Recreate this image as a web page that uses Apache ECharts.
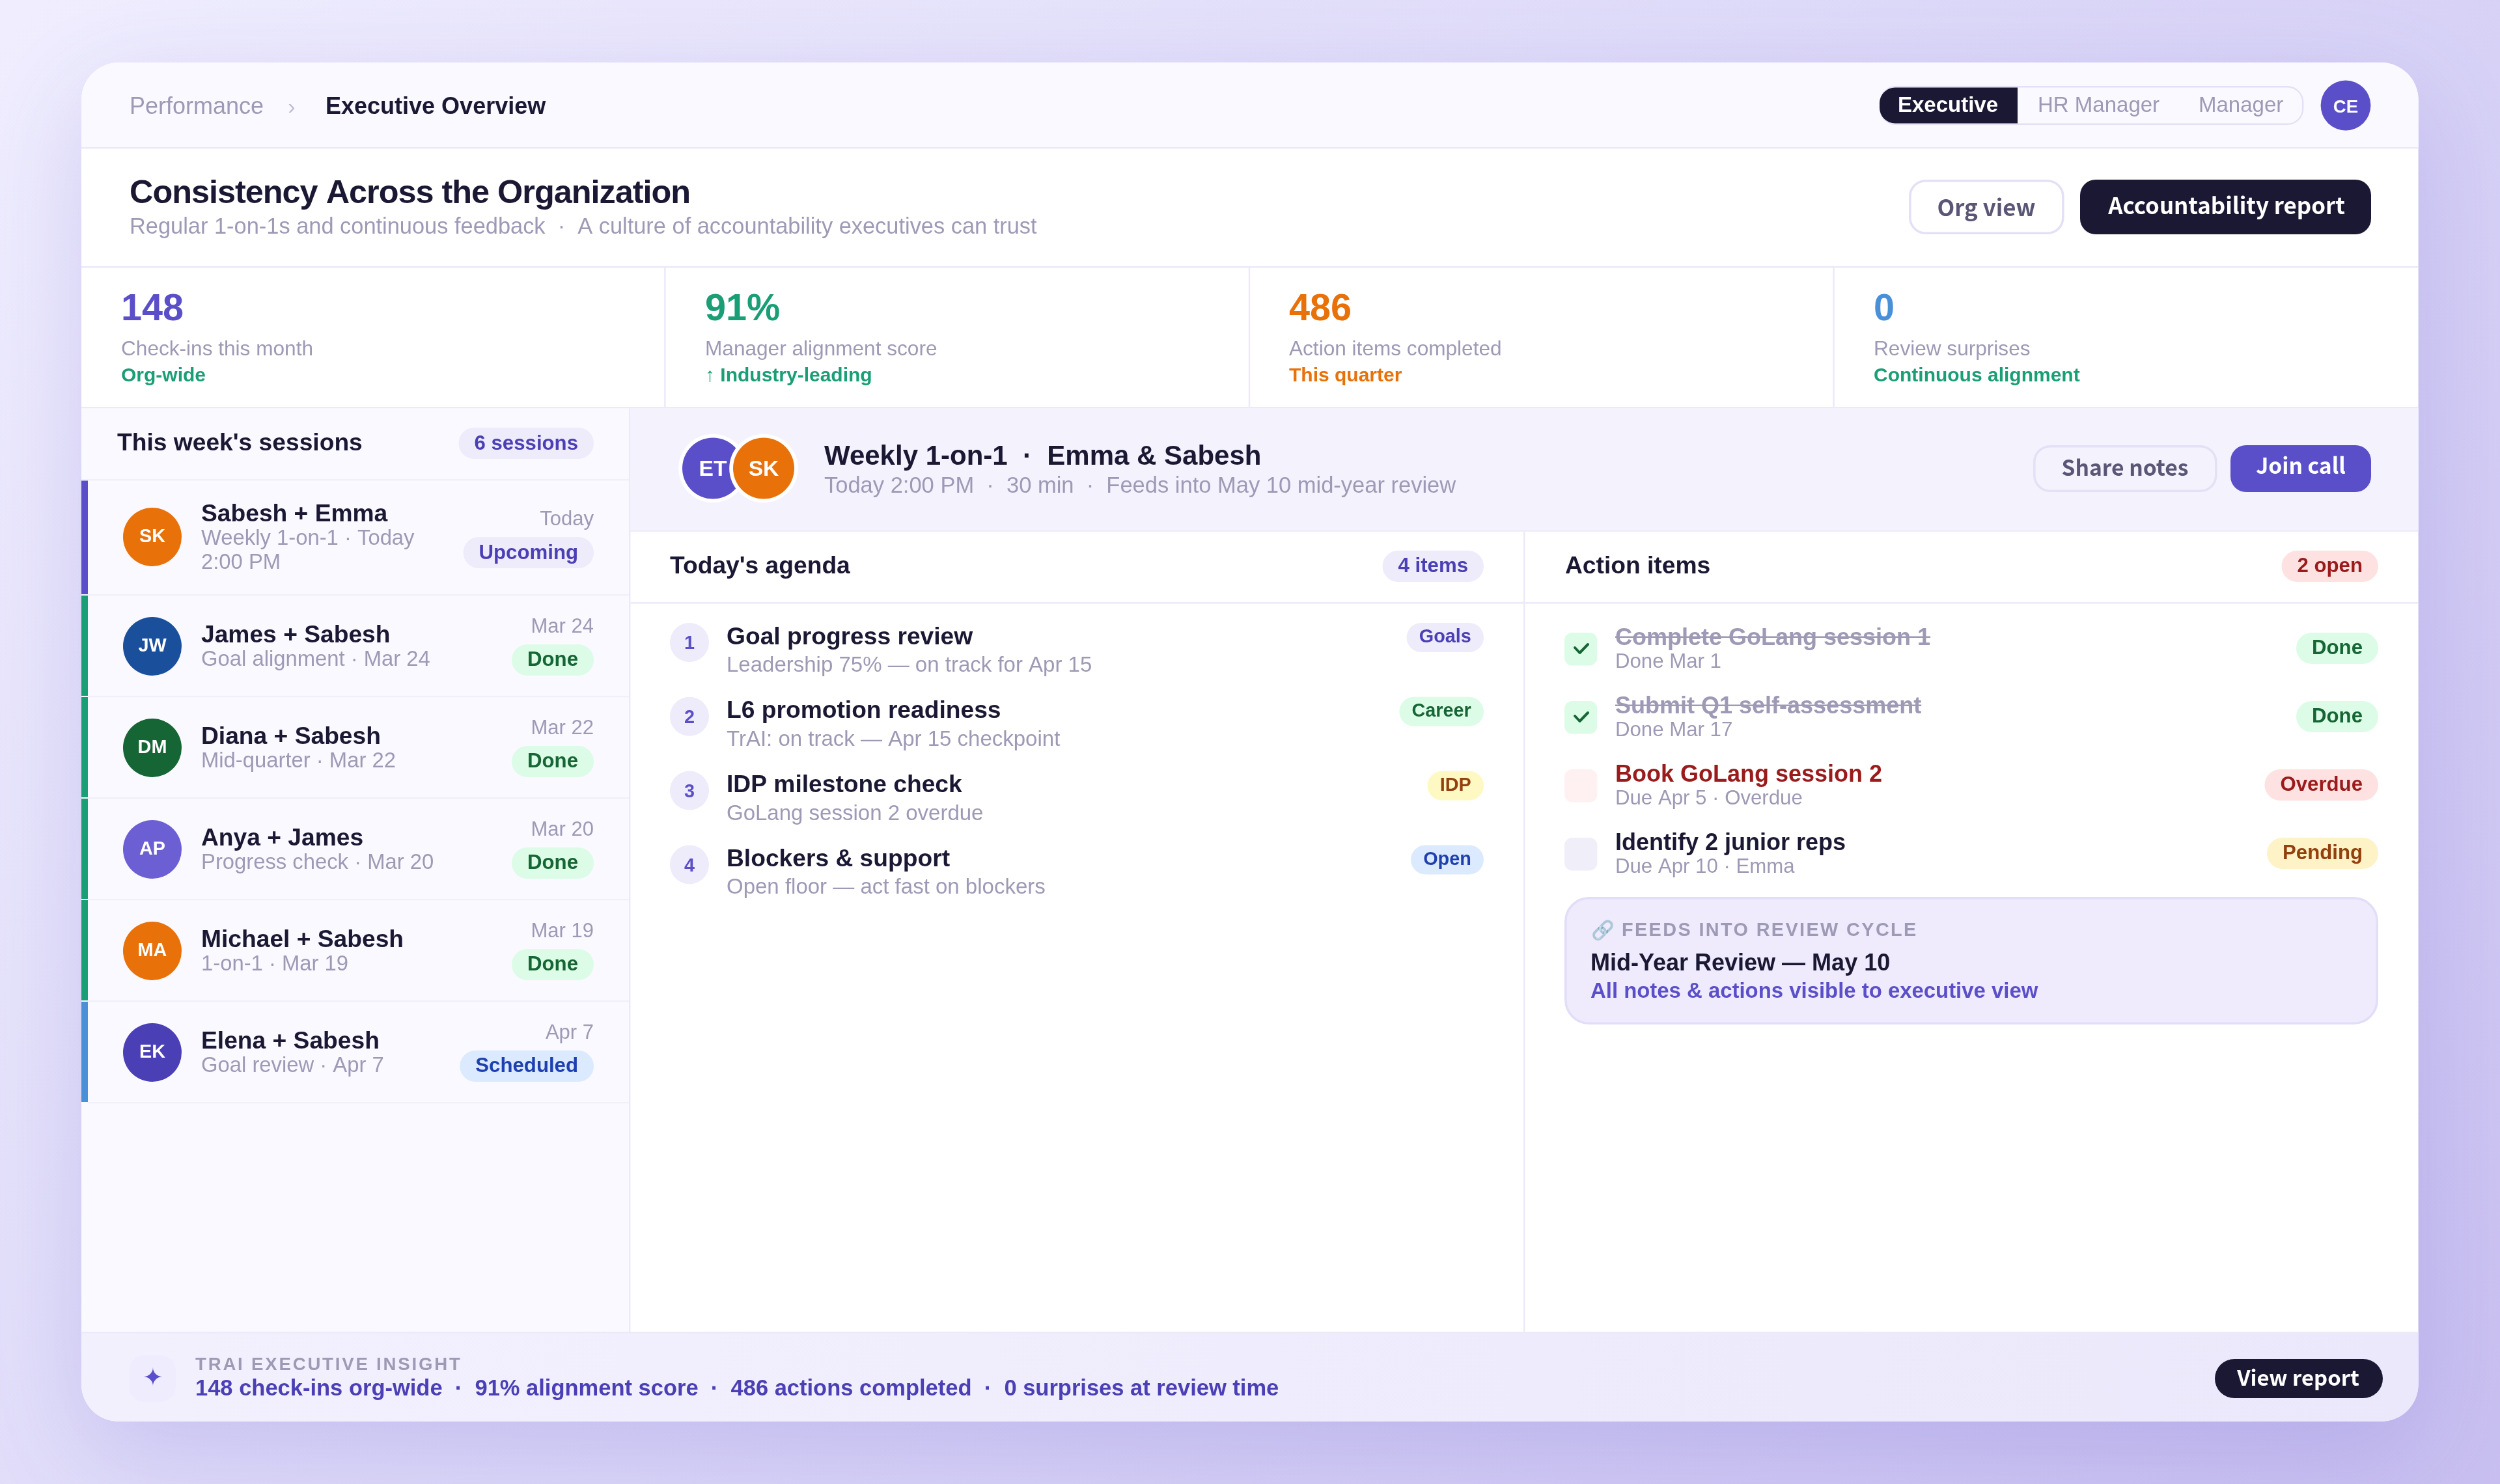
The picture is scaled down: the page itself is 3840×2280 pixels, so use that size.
<!DOCTYPE html>
<html>
<head>
<meta charset="utf-8">
<title>Executive Overview</title>
<style>html,body{margin:0;padding:0;background:#e0dcfa}#container{width:3840px;height:2280px}</style>
<script src="https://cdn.jsdelivr.net/npm/echarts@6/dist/echarts.min.js"></script>
</head>
<body>
<div id="container"></div>
<script>
// ---- content ----
var roles = ['Executive', 'HR Manager', 'Manager'];
var kpiValues = ['148', '91%', '486', '0'];
var kpiLabels = ['Check-ins this month', 'Manager alignment score', 'Action items completed', 'Review surprises'];
var kpiNotes = ['Org-wide', '↑ Industry-leading', 'This quarter', 'Continuous alignment'];

var sessionInitials = ['SK', 'JW', 'DM', 'AP', 'MA', 'EK'];
var sessionNames = ['Sabesh + Emma', 'James + Sabesh', 'Diana + Sabesh', 'Anya + James', 'Michael + Sabesh', 'Elena + Sabesh'];
var sessionSubs = [
    ['Weekly 1-on-1 · Today', '2:00 PM'],
    ['Goal alignment · Mar 24'],
    ['Mid-quarter · Mar 22'],
    ['Progress check · Mar 20'],
    ['1-on-1 · Mar 19'],
    ['Goal review · Apr 7']
];
var sessionDates = ['Today', 'Mar 24', 'Mar 22', 'Mar 20', 'Mar 19', 'Apr 7'];
var sessionStatus = ['Upcoming', 'Done', 'Done', 'Done', 'Done', 'Scheduled'];

var agendaTitles = ['Goal progress review', 'L6 promotion readiness', 'IDP milestone check', 'Blockers & support'];
var agendaSubs = ['Leadership 75% — on track for Apr 15', 'TrAI: on track — Apr 15 checkpoint', 'GoLang session 2 overdue', 'Open floor — act fast on blockers'];
var agendaTags = ['Goals', 'Career', 'IDP', 'Open'];

var actionTitles = ['Complete GoLang session 1', 'Submit Q1 self-assessment', 'Book GoLang session 2', 'Identify 2 junior reps'];
var actionSubs = ['Done Mar 1', 'Done Mar 17', 'Due Apr 5 · Overdue', 'Due Apr 10 · Emma'];
var actionStatus = ['Done', 'Done', 'Overdue', 'Pending'];

var insightParts = ['148 check-ins org-wide', '91% alignment score', '486 actions completed', '0 surprises at review time'];

// ---- styles ----
var SEP = '\u00a0\u00a0·\u00a0\u00a0';
var INK = '#1a1833', MUTED = '#9e99b5', PURPLE = '#5b4fc9', DEEP = '#4a3fb5', LINE = '#ece9f9';
var GREEN = '#1a9e75', ORANGE = '#e8710a', BLUE = '#4a90d9';
var SANS = '"Liberation Sans"', BTN = '"Noto Sans CJK SC"';
var kpiColors = [PURPLE, GREEN, ORANGE, BLUE];
var kpiNoteColors = [GREEN, GREEN, ORANGE, GREEN];
var avatarColors = [ORANGE, '#1a4f9c', '#166534', '#6c5fd4', ORANGE, DEEP];
var rowBarColors = [PURPLE, GREEN, GREEN, GREEN, GREEN, BLUE];
var pillStyles = {
    Upcoming: ['#eeebfb', DEEP], Done: ['#dcfce7', '#166534'], Scheduled: ['#dbeafe', '#1e40af'],
    Goals: ['#eeebfb', DEEP], Career: ['#dcfce7', '#166534'], IDP: ['#fef9c3', '#92400e'], Open: ['#dbeafe', '#1e40af'],
    Overdue: ['#fee2e2', '#991b1b'], Pending: ['#fef3c7', '#92400e'],
    '6 sessions': ['#eeebfb', DEEP], '4 items': ['#eeebfb', DEEP], '2 open': ['#fee2e2', '#991b1b']
};

// letter spacing for the few texts that have it, zrender has no option for this
var spaced = {'Consistency Across the Organization': '-1px', 'FEEDS INTO REVIEW CYCLE': '2.4px', 'TRAI EXECUTIVE INSIGHT': '2.8px'};
var rawFill = CanvasRenderingContext2D.prototype.fillText;
CanvasRenderingContext2D.prototype.fillText = function (s, x, y, m) {
    this.letterSpacing = spaced[s] || '0px';
    return m === undefined ? rawFill.call(this, s, x, y) : rawFill.call(this, s, x, y, m);
};

var measureCtx = document.createElement('canvas').getContext('2d');
function textWidth(s, font) {
    measureCtx.font = font;
    return measureCtx.measureText(s).width;
}

var els = [];
function rect(x, y, w, h, fill, r, stroke, lw) {
    els.push({type: 'rect', shape: {x: x, y: y, width: w, height: h, r: r || 0},
        style: {fill: fill, stroke: stroke || null, lineWidth: lw || 0}, silent: true});
}
// y is the text baseline
function text(s, x, y, size, color, weight, align, family, opacity) {
    els.push({type: 'text', x: x, y: y - size * 0.26, silent: true, style: {
        text: s, fill: color, font: (weight || 'normal') + ' ' + size + 'px ' + (family || SANS),
        textAlign: align || 'left', textVerticalAlign: 'middle', opacity: opacity === undefined ? 1 : opacity}});
}
function circle(cx, cy, r, fill) {
    els.push({type: 'circle', shape: {cx: cx, cy: cy, r: r}, style: {fill: fill}, silent: true});
}
// pill anchored on its right edge
function pill(s, right, top, h, size, pad, base) {
    var st = pillStyles[s];
    var w = textWidth(s, 'bold ' + size + 'px ' + SANS) + pad * 2;
    rect(right - w, top, w, h, st[0], h / 2);
    text(s, right - pad, base, size, st[1], 'bold', 'right');
}

// ---- page and card ----
rect(0, 0, 3840, 2280, {type: 'linear', x: 390, y: -390, x2: 3450, y2: 2670, global: true, colorStops: [
    {offset: 0, color: '#f0eefe'}, {offset: 0.5, color: '#dcd8f8'}, {offset: 1, color: '#c8bff0'}]});
var CL = 125, CR = 3714.6, CT = 96, CB = 2184, CR_R = 57.6;
els.push({type: 'rect', shape: {x: CL, y: CT, width: CR - CL, height: CB - CT, r: CR_R}, silent: true,
    style: {fill: '#fff', shadowBlur: 160, shadowOffsetY: 48, shadowColor: 'rgba(91,79,201,0.20)'}});

// ---- top bar ----
rect(CL, CT, CR - CL, 130, '#faf9ff', [CR_R, CR_R, 0, 0]);
rect(CL, 226, CR - CL, 2.4, LINE);
text('Performance', 199, 174, 36, MUTED);
text('›', 448, 174, 34, '#c0bcd4', 'normal', 'center');
text('Executive Overview', 500, 174, 36, INK, 'bold');

rect(2888.2, 133.2, 649, 57.6, '#faf9ff', 24, '#e4e1f6', 2.4);
rect(2887, 134.5, 212, 55, INK, [24, 0, 0, 24]);
text(roles[0], 2992, 171, 33, '#fff', 'bold', 'center');
text(roles[1], 3130, 171, 33, MUTED);
text(roles[2], 3377, 171, 33, MUTED);
circle(3603, 162, 38.4, PURPLE);
text('CE', 3603, 173, 27.6, '#fff', 'bold', 'center');

// ---- header ----
text('Consistency Across the Organization', 199, 311, 50.4, INK, 'bold');
text('Regular 1-on-1s and continuous feedback' + SEP + 'A culture of accountability executives can trust', 199, 358, 34.4, MUTED);
rect(2933.8, 277.8, 235, 80.4, '#fff', 24, '#e4e1f6', 3.6);
text('Org view', 3051, 327.6, 34.8, '#5a5675', 600, 'center', BTN);
rect(3195, 276, 447, 84, INK, 24);
text('Accountability report', 3420, 324.6, 34.8, '#fff', 600, 'center', BTN);
rect(CL, 409, CR - CL, 2.4, LINE);

// ---- kpi row ----
var kpiX = [186, 1083, 1980, 2878];
kpiValues.forEach(function (v, i) {
    text(v, kpiX[i], 491, 57.6, kpiColors[i], 'bold');
    text(kpiLabels[i], kpiX[i], 545, 31.6, MUTED);
    text(kpiNotes[i], kpiX[i], 586, 30, kpiNoteColors[i], 'bold');
    if (i < 3) rect(CL + 897.6 * (i + 1) - 2.4, 411, 2.4, 214, LINE);
});
rect(CL, 625, CR - CL, 2.4, LINE);

// ---- left panel ----
rect(CL, 627.4, 841, 1418.6, '#faf9ff');
rect(966, 627.4, 2.4, 1418.6, LINE);
text("This week's sessions", 180, 691.5, 37.2, INK, 'bold');
pill('6 sessions', 912, 657, 48, 31.2, 24, 690.5);
rect(CL, 736, 841, 2.4, '#f1eff9');
sessionNames.forEach(function (name, i) {
    var top = i === 0 ? 738.4 : 915 + 156 * (i - 1);
    var bottom = i === 0 ? 913 : top + 154;
    var first = i === 0;
    rect(CL, top, 10, bottom - top, rowBarColors[i]);
    rect(135, bottom, 831, 2.2, '#f1eff9');
    var cy = first ? 825 : top + 78;
    circle(234, cy, 45, avatarColors[i]);
    text(sessionInitials[i], 234, cy + 8, 28.8, '#fff', 'bold', 'center');
    text(name, 309, first ? 800 : top + 71, 37.2, INK, 'bold');
    sessionSubs[i].forEach(function (line, k) {
        text(line, 309, (first ? 836.5 : top + 107) + 36.5 * k, 32.8, MUTED);
    });
    text(sessionDates[i], 912, first ? 807 : top + 57, 31, MUTED, 'normal', 'right');
    pill(sessionStatus[i], 912, first ? 825 : top + 75, 48, 31.2, 24, first ? 858.5 : top + 108);
});

// ---- session header ----
rect(968.4, 627.4, CR - 968.4, 187, '#f4f2fd');
rect(968.4, 814.4, CR - 968.4, 2.4, LINE);
circle(1095, 719.5, 52.8, '#fff');
circle(1095, 719.5, 47, PURPLE);
text('ET', 1095, 730, 33.6, '#fff', 'bold', 'center');
circle(1173, 719.5, 52.8, '#fff');
circle(1173, 719.5, 47, ORANGE);
text('SK', 1173, 730, 33.6, '#fff', 'bold', 'center');
text('Weekly 1-on-1' + SEP + 'Emma & Sabesh', 1266, 713, 42, INK, 'bold');
text('Today 2:00 PM' + SEP + '30 min' + SEP + 'Feeds into May 10 mid-year review', 1266, 756, 34.5, MUTED);
rect(3124.8, 685.8, 279, 68.4, '#f4f2fd', 24, '#e4e1f6', 3.6);
text('Share notes', 3264, 726.6, 33.6, '#5a5675', 600, 'center', BTN);
rect(3426, 684, 216, 72, PURPLE, 24);
text('Join call', 3534, 723.6, 33.6, '#fff', 600, 'center', BTN);

// ---- agenda ----
text("Today's agenda", 1029, 880, 37.2, INK, 'bold');
pill('4 items', 2279, 846, 48, 31.2, 24, 879);
rect(968.4, 925, CR - 968.4, 2.4, LINE);
rect(2340, 816.8, 2.4, 1229, LINE);
agendaTitles.forEach(function (title, i) {
    var dy = 113.8 * i;
    circle(1059, 987 + dy, 30, '#eeebfb');
    text(String(i + 1), 1059, 997 + dy, 28.8, PURPLE, 'bold', 'center');
    text(title, 1116, 989 + dy, 37.2, INK, 'bold');
    text(agendaSubs[i], 1116, 1031.5 + dy, 33, MUTED);
    pill(agendaTags[i], 2279, 957 + dy, 45, 28.8, 19.2, 987 + dy);
});

// ---- action items ----
text('Action items', 2404, 880, 37.2, INK, 'bold');
pill('2 open', 3653, 846, 48, 31.2, 24, 879);
var boxFills = ['#dcfce7', '#dcfce7', '#fff1f1', '#f0eef9'];
var titleColors = [MUTED, MUTED, '#991b1b', INK];
actionTitles.forEach(function (title, i) {
    var dy = 105 * i;
    rect(2403, 972 + dy, 50.4, 50.4, boxFills[i], 12);
    if (actionStatus[i] === 'Done') {
        els.push({type: 'polyline', silent: true, shape: {points: [[2419, 995 + dy], [2426.5, 1003 + dy], [2439, 990 + dy]]},
            style: {stroke: '#166534', lineWidth: 4, fill: null, lineCap: 'round', lineJoin: 'round'}});
    }
    text(title, 2481, 990 + dy, 36, titleColors[i], 'bold');
    if (actionStatus[i] === 'Done') {
        rect(2481, 977.5 + dy, textWidth(title, 'bold 36px ' + SANS), 2.6, MUTED);
    }
    text(actionSubs[i], 2481, 1026 + dy, 31.2, MUTED);
    pill(actionStatus[i], 3653, 972 + dy, 48, 31.2, 24, 1005 + dy);
});
rect(2404.8, 1379.8, 1246.4, 192.4, '#efebfd', 36, '#e2def7', 3.6);
text('🔗', 2444, 1438, 28.8, '#000', 'normal', 'left', '"Noto Color Emoji", ' + SANS, 0.6);
text('FEEDS INTO REVIEW CYCLE', 2491, 1438, 28.8, MUTED, 'bold');
text('Mid-Year Review — May 10', 2443, 1490, 36, INK, 'bold');
text('All notes & actions visible to executive view', 2443, 1532, 32.9, PURPLE, 'bold');

// ---- footer ----
rect(CL, 2046, CR - CL, 138, {type: 'linear', x: 0, y: 0, x2: 1, y2: 0, colorStops: [
    {offset: 0, color: '#f3f0fe'}, {offset: 1, color: '#ebe8fb'}]}, [0, 0, CR_R, CR_R]);
rect(CL, 2046, CR - CL, 2.4, LINE);
rect(198, 2082, 72, 72, '#efecfd', 24);
text('✦', 235, 2129, 38, PURPLE, 'normal', 'center', '"DejaVu Sans"');
text('TRAI EXECUTIVE INSIGHT', 300, 2105, 27.6, MUTED, 'bold');
text(insightParts.join(SEP), 300, 2143, 34.5, DEEP, 'bold');
rect(3402, 2088, 258, 60, INK, 30);
text('View report', 3530, 2124.6, 32.8, '#fff', 600, 'center', BTN);

var dom = document.getElementById('container');
var myChart = echarts.init(dom);
var option = {
    animation: false,
    graphic: {elements: els}
};
myChart.setOption(option, true);
</script>
</body>
</html>
